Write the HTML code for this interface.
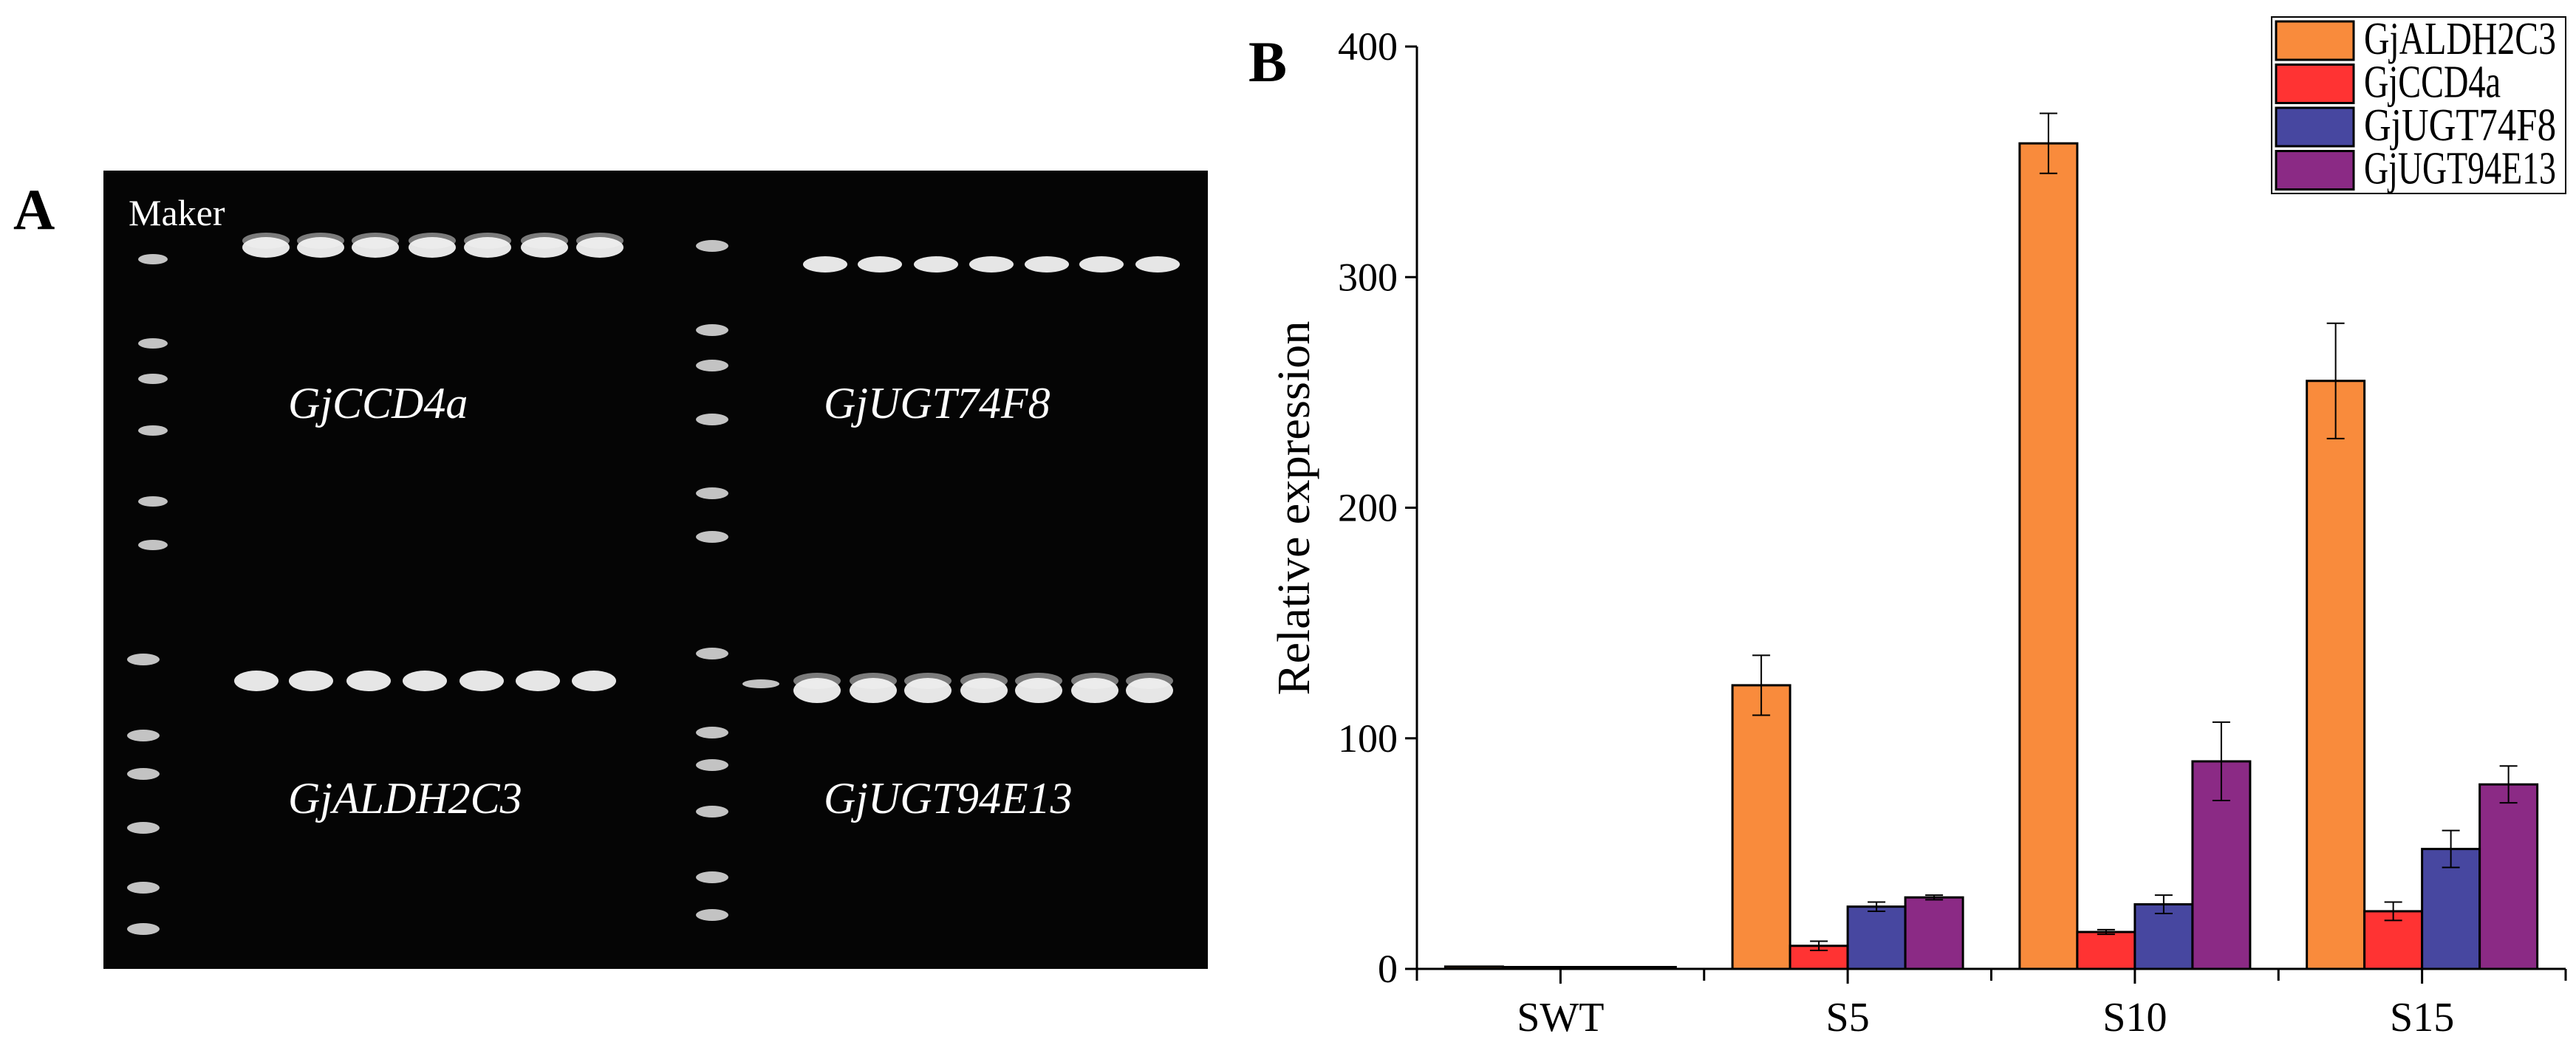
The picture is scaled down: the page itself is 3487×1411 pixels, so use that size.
<!DOCTYPE html>
<html><head><meta charset="utf-8"><style>
html,body{margin:0;padding:0;background:#fff;}
svg{display:block;font-family:"Liberation Serif",serif;}
</style></head><body>
<svg id="fig" width="3487" height="1411" viewBox="0 0 3487 1411">
<g id="gel">
<text x="18" y="310" font-size="78" font-weight="bold">A</text>
<rect x="140" y="231" width="1495" height="1081" fill="#050505"/>
<text x="174" y="305" font-size="50" fill="#fff">Maker</text>
<g font-style="italic" font-size="60" fill="#fff">
<text x="390" y="566">GjCCD4a</text>
<text x="1115" y="566">GjUGT74F8</text>
<text x="390" y="1101">GjALDH2C3</text>
<text x="1115" y="1101">GjUGT94E13</text>
</g>
</g>
<g id="chart"></g>
</svg>
<script>
const categories=["SWT","S5","S10","S15"];
const seriesNames=["GjALDH2C3","GjCCD4a","GjUGT74F8","GjUGT94E13"];
const aldh=[1,123,358,255];
const ccd=[0.8,10,16,25];
const ugt74=[0.8,27,28,52];
const ugt94=[0.8,31,90,80];
const aldhErr=[0,13,13,25];
const ccdErr=[0,2,1,4];
const ugt74Err=[0,2,4,8];
const ugt94Err=[0,1,17,8];
const yTicks=[0,100,200,300,400];

const NS="http://www.w3.org/2000/svg";
function mk(tag,attrs,parent){const e=document.createElementNS(NS,tag);for(const k in attrs)e.setAttribute(k,attrs[k]);parent.appendChild(e);return e;}
const colors=["#F98B3C","#FF3333","#4747A0","#8B2A85"];
const values=[aldh,ccd,ugt74,ugt94];
const errs=[aldhErr,ccdErr,ugt74Err,ugt94Err];
const X0=1918,X1=3473,Y0=1312,Y1=63;
const y=v=>Y0-(v/400)*(Y0-Y1);
const catW=(X1-X0)/4;
const cx=i=>X0+catW*(i+0.5);
const barW=78;
const g=document.getElementById('chart');
const gel=document.getElementById('gel');

function band(x,yy,w,h,op,name){const r=mk('ellipse',{cx:x,cy:yy,rx:w/2,ry:h/2,fill:'#f2f2f2',opacity:op},gel);

}
const ladderTL=[351,465,513,583,679,738],ladderBL=[893,996,1048,1121,1202,1258],ladderTR=[333,447,495,568,668,727],ladderBR=[885,992,1036,1099,1188,1239];
ladderTL.forEach(v=>band(207,v,40,14,0.8,'ladder-band'));
ladderBL.forEach(v=>band(194,v,44,16,0.8,'ladder-band'));
ladderTR.forEach(v=>band(964,v,44,16,0.8,'ladder-band'));
ladderBR.forEach(v=>band(964,v,44,16,0.8,'ladder-band'));
[360,434,508,585,660,737,812].forEach(v=>{band(v,326,64,22,0.5,'band-glow');band(v,335,64,28,0.95,'pcr-band');});
[1117,1191,1267,1342,1417,1491,1567].forEach(v=>band(v,358,60,22,0.95,'pcr-band'));
[347,421,499,575,652,728,804].forEach(v=>band(v,922,60,28,0.95,'pcr-band'));
[1106,1182,1256,1332,1406,1482,1556].forEach(v=>{band(v,922,64,22,0.5,'band-glow');band(v,935,64,34,0.95,'pcr-band');});
band(1030,926,50,12,0.8,'pcr-band');

let t=mk('text',{x:1690,y:110,'font-size':78,'font-weight':'bold'},g);t.textContent='B';



values.forEach((arr,s)=>{arr.forEach((v,i)=>{
 const bx=cx(i)-2*barW+s*barW;
 const r=mk('rect',{x:bx,y:y(v),width:barW,height:Y0-y(v),fill:colors[s],stroke:'#000','stroke-width':3},g);
 
 
 const e=errs[s][i];
 if(e>0){const ex=bx+barW/2;
  const l=mk('path',{d:`M${ex},${y(v+e)}V${y(v-e)}M${ex-12},${y(v+e)}H${ex+12}M${ex-12},${y(v-e)}H${ex+12}`,stroke:'#000','stroke-width':2,fill:'none'},g);
  
  }
});});

let ax=mk('path',{d:`M${X0},${Y1}V${Y0}H${X1}`,stroke:'#000','stroke-width':3,fill:'none'},g);


yTicks.forEach(v=>{
 const tk=mk('path',{d:`M${X0-16},${y(v)}H${X0}`,stroke:'#000','stroke-width':3},g);
 
 
 const tl=mk('text',{x:X0-26,y:y(v)+18,'font-size':54,'text-anchor':'end'},g);tl.textContent=v;
 
 
});
for(let i=0;i<=4;i++){const xx=X0+catW*i;
 const tk=mk('path',{d:`M${xx},${Y0}V${Y0+16}`,stroke:'#000','stroke-width':3},g);
 
 }
categories.forEach((c,i)=>{
 const tk=mk('path',{d:`M${cx(i)},${Y0}V${Y0+20}`,stroke:'#000','stroke-width':3},g);
 
 
 const tl=mk('text',{x:cx(i),y:Y0+84,'font-size':56,'text-anchor':'middle'},g);tl.textContent=c;
 
 
});
let yt=mk('text',{x:0,y:0,'font-size':62,'text-anchor':'middle',transform:'translate(1772,688) rotate(-90)',textLength:507,lengthAdjust:'spacingAndGlyphs'},g);
yt.textContent='Relative expression';



let lb=mk('rect',{x:3075,y:23,width:398,height:239,fill:'#fff',stroke:'#000','stroke-width':2},g);


seriesNames.forEach((n,s)=>{
 const ry=29+s*58.5;
 const sw=mk('rect',{x:3081,y:ry,width:105,height:52,fill:colors[s],stroke:'#000','stroke-width':3},g);
 
 
 const lt=mk('text',{x:3200,y:ry+44,'font-size':62,textLength:n.length>8?260:(n==='GjCCD4a'?185:238),lengthAdjust:'spacingAndGlyphs'},g);
 lt.textContent=n;
 
 
});
</script>
</body></html>
